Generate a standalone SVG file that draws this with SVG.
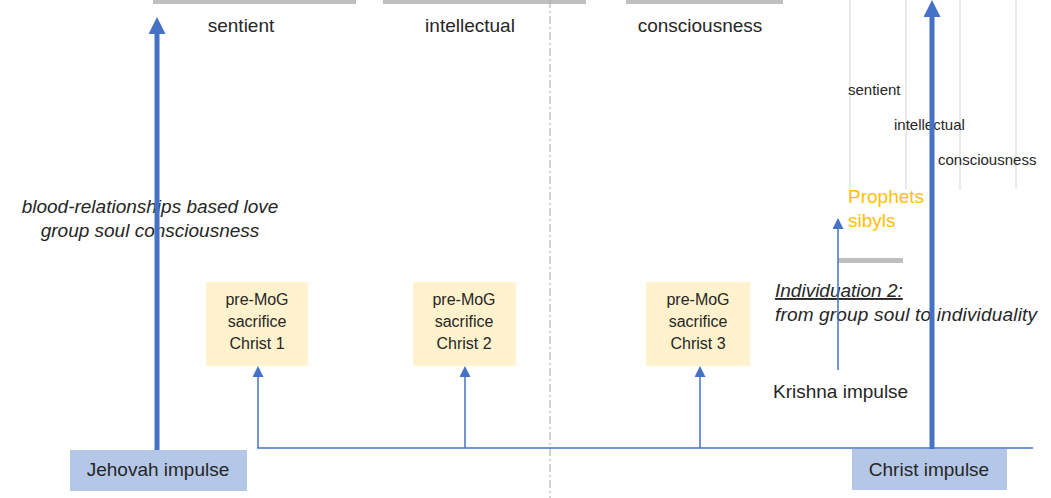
<svg xmlns="http://www.w3.org/2000/svg" width="1051" height="498" viewBox="0 0 1051 498">
<style>
text{font-family:"Liberation Sans",Arial,sans-serif;fill:#262626}
.lbl{font-size:19px}
.sm{font-size:15px}
.it{font-size:19px;font-style:italic}
.box{font-size:16px;text-anchor:middle}
.thick{stroke:#4472C4;stroke-width:5;fill:none}
.thin{stroke:#4472C4;stroke-width:1.5;fill:none}
.grid{stroke:#D4D4D4;stroke-width:1}
.bar{fill:#BFBFBF}
.yel{fill:#FFF2CC}
.blu{fill:#B4C7E7}
</style>
<defs>
<marker id="big" markerUnits="userSpaceOnUse" markerWidth="17" markerHeight="17" refX="0" refY="8.5" orient="auto"><path d="M0,0 L17,8.5 L0,17 z" fill="#4472C4"/></marker>
<marker id="small" markerUnits="userSpaceOnUse" markerWidth="11" markerHeight="11" refX="0" refY="5.5" orient="auto"><path d="M0,0 L11,5.5 L0,11 z" fill="#4472C4"/></marker>
</defs>
<rect width="1051" height="498" fill="#FFFFFF"/>

<g id="era-bars">
<rect class="bar" x="153" y="0" width="203" height="4"/>
<rect class="bar" x="383" y="0" width="203" height="4"/>
<rect class="bar" x="626" y="0" width="157" height="4"/>
<rect class="bar" x="838" y="258" width="65" height="5"/>
</g>

<g id="divider">
<line x1="550" y1="0" x2="550" y2="498" stroke="#A6A6A6" stroke-width="1" stroke-dasharray="8,3,2,3"/>
</g>

<g id="grid-lines">
<line class="grid" x1="850" y1="0" x2="850" y2="189"/>
<line class="grid" x1="906" y1="0" x2="906" y2="189"/>
<line class="grid" x1="960" y1="0" x2="960" y2="190"/>
<line class="grid" x1="1016" y1="0" x2="1016" y2="189"/>
</g>

<g id="labels">
<text class="lbl" x="241" y="32" text-anchor="middle">sentient</text>
<text class="lbl" x="470" y="32" text-anchor="middle">intellectual</text>
<text class="lbl" x="700" y="32" text-anchor="middle">consciousness</text>
<text class="sm" x="848" y="95">sentient</text>
<text class="sm" x="894" y="130">intellectual</text>
<text class="sm" x="938" y="165">consciousness</text>
<text class="it" x="150" y="213" text-anchor="middle">blood-relationships based love</text>
<text class="it" x="150" y="237" text-anchor="middle">group soul consciousness</text>
<text class="lbl" x="848" y="203" style="fill:#FFC000">Prophets</text>
<text class="lbl" x="848" y="227" style="fill:#FFC000">sibyls</text>
<text class="it" x="775" y="297" text-decoration="underline">Individuation 2:</text>
<text class="it" x="775" y="321" textLength="262" lengthAdjust="spacing">from group soul to individuality</text>
<text class="lbl" x="773" y="398">Krishna impulse</text>
</g>

<g id="connectors">
<line class="thin" x1="257" y1="448" x2="1033" y2="448"/>
<line class="thin" x1="258" y1="448" x2="258" y2="377" marker-end="url(#small)"/>
<line class="thin" x1="465" y1="448" x2="465" y2="377" marker-end="url(#small)"/>
<line class="thin" x1="700" y1="448" x2="700" y2="377" marker-end="url(#small)"/>
<line class="thin" x1="838" y1="370" x2="838" y2="229" marker-end="url(#small)"/>
<line class="thick" x1="157" y1="452" x2="157" y2="34" marker-end="url(#big)"/>
<line class="thick" x1="932" y1="452" x2="932" y2="17" marker-end="url(#big)"/>
</g>

<g id="christ1">
<rect class="yel" x="206" y="282" width="102" height="84"/>
<text class="box" x="257" y="305">pre-MoG</text>
<text class="box" x="257" y="327">sacrifice</text>
<text class="box" x="257" y="349">Christ 1</text>
</g>
<g id="christ2">
<rect class="yel" x="413" y="282" width="103" height="84"/>
<text class="box" x="464" y="305">pre-MoG</text>
<text class="box" x="464" y="327">sacrifice</text>
<text class="box" x="464" y="349">Christ 2</text>
</g>
<g id="christ3">
<rect class="yel" x="646" y="282" width="104" height="84"/>
<text class="box" x="698" y="305">pre-MoG</text>
<text class="box" x="698" y="327">sacrifice</text>
<text class="box" x="698" y="349">Christ 3</text>
</g>

<g id="jehovah">
<rect class="blu" x="70" y="450" width="177" height="41"/>
<text class="lbl" x="158" y="476" text-anchor="middle">Jehovah impulse</text>
</g>
<g id="christ-impulse">
<rect class="blu" x="852" y="449" width="155" height="41"/>
<text class="lbl" x="929" y="476" text-anchor="middle">Christ impulse</text>
</g>
</svg>
